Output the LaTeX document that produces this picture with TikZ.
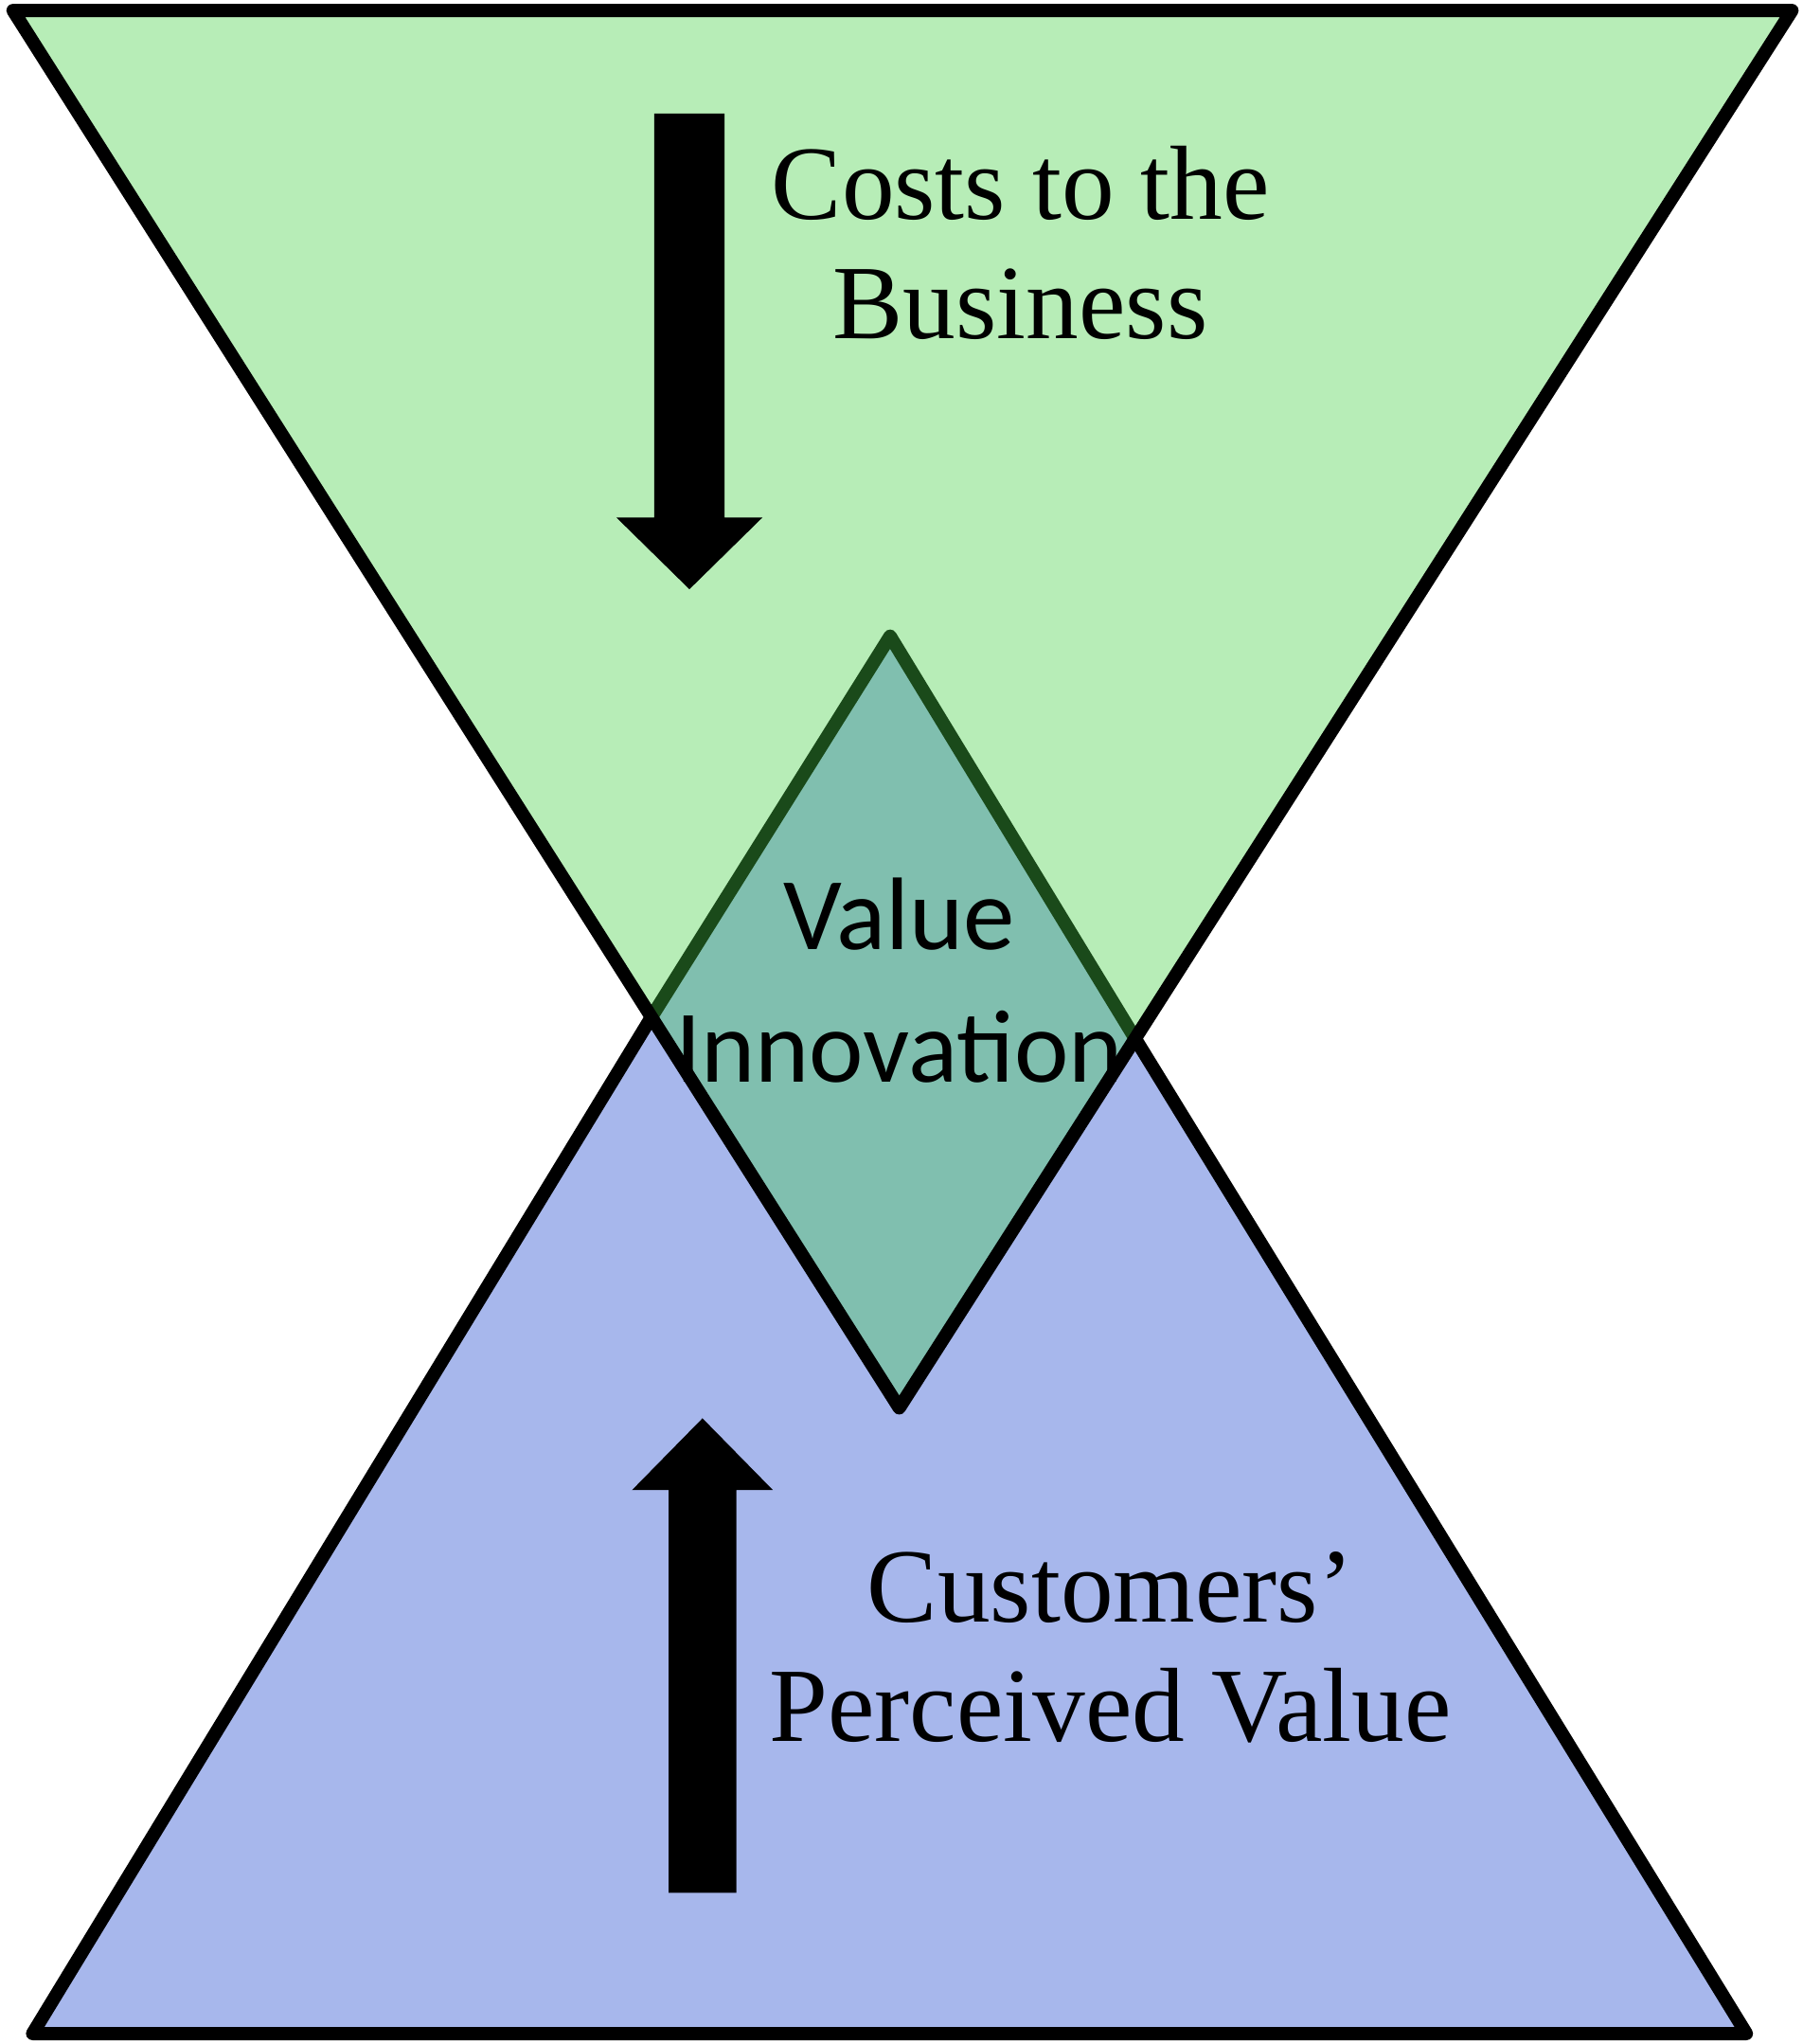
\documentclass[tikz,border=0pt]{standalone}
\usepackage{fontspec}
\setmainfont{Liberation Serif}
\newfontfamily\calib{Carlito}
\definecolor{gr}{HTML}{B7EDB7}
\definecolor{bl}{HTML}{A7B7EC}
\definecolor{te}{HTML}{80BFAF}
\definecolor{dg}{HTML}{1A4A1A}
\tikzset{edge/.style={line width=2.9pt,line join=round,line cap=round},
 serif/.style={font=\fontsize{23}{27}\selectfont,align=center,inner sep=0},
 sans/.style={font=\calib\fontsize{22.5}{25}\selectfont,align=center,inner sep=0}}
\begin{document}
\begin{tikzpicture}[x=0.01cm,y=-0.01cm]
\useasboundingbox (0,0) rectangle (1383,1568);
\coordinate (T) at (683,488); \coordinate (L) at (500,780);
\coordinate (R) at (870,795); \coordinate (B) at (690,1080);
% bottom triangle
\fill[bl] (T) -- (1340,1560) -- (25,1560) -- cycle;
% top triangle
\fill[gr] (10,8) -- (1375,8) -- (B) -- cycle;
\fill[te] (T) -- (R) -- (B) -- (L) -- cycle;
\draw[edge] (R) -- (1340,1560) -- (25,1560) -- (L);
\draw[edge,dg] (L) -- (T) -- (R);
\draw[edge] (10,8) -- (1375,8) -- (B) -- cycle;
% arrows
\fill (502,87) -- (556,87) -- (556,397) -- (585,397) -- (529,452) -- (473,397) -- (502,397) -- cycle;
\fill (513,1452) -- (565,1452) -- (565,1143) -- (593,1143) -- (539,1088) -- (485,1143) -- (513,1143) -- cycle;
\node[serif] (c) at (783,186) {Costs to the\\[-1pt]Business};
\node[serif] (p) at (852,1264) {Customers’\\[-1pt]Perceived Value};
\node[sans] (v) at (690,752) {Value\\[4pt]Innovation};
\end{tikzpicture}
\end{document}
